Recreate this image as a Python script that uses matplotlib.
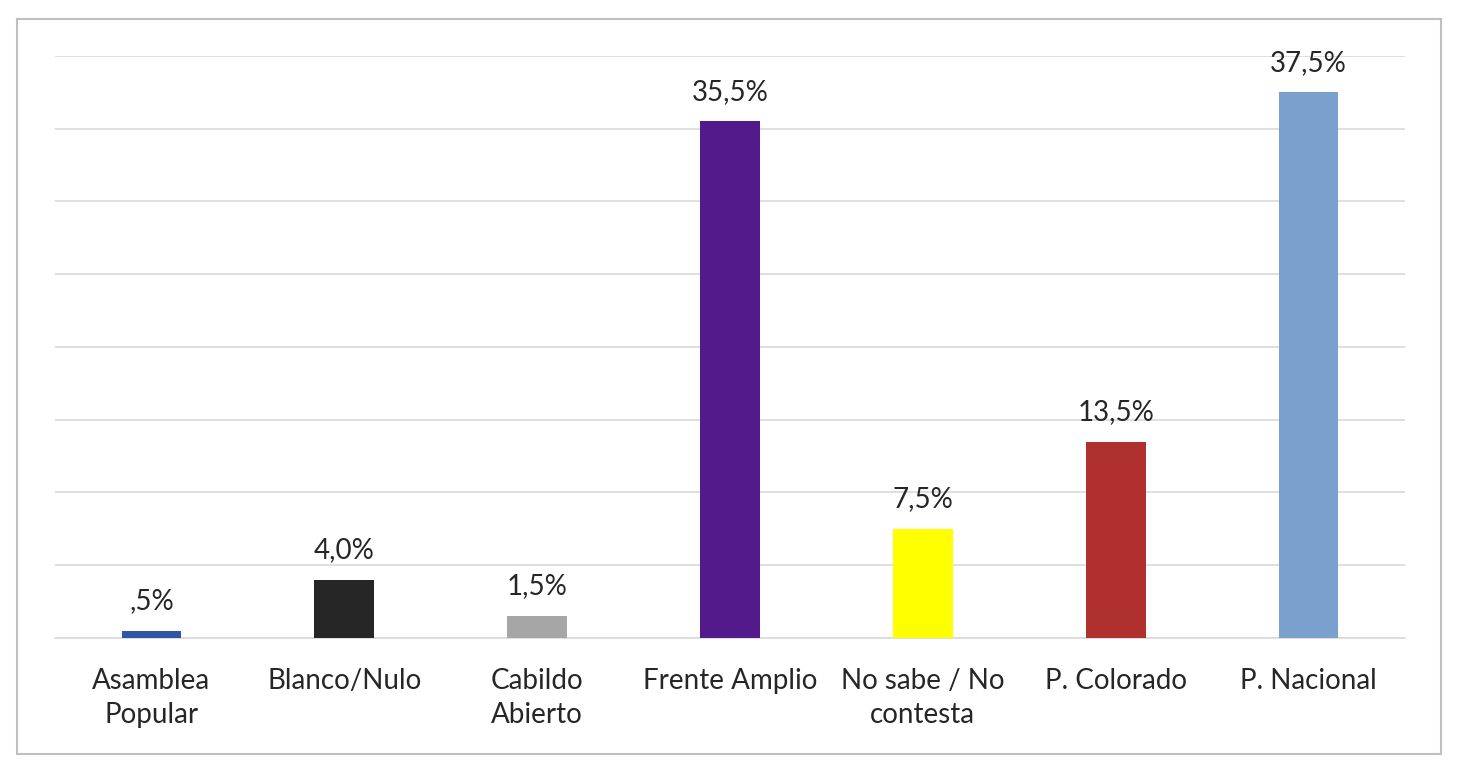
import matplotlib.pyplot as plt
from matplotlib.patches import Rectangle

plt.rcParams['font.family'] = ['Lato', 'DejaVu Sans']

categories = ["Asamblea\nPopular", "Blanco/Nulo", "Cabildo\nAbierto", "Frente Amplio",
              "No sabe / No\ncontesta", "P. Colorado", "P. Nacional"]
values = [0.5, 4.0, 1.5, 35.5, 7.5, 13.5, 37.5]
value_labels = [",5%", "4,0%", "1,5%", "35,5%", "7,5%", "13,5%", "37,5%"]
colors = ["#2F55A4", "#262626", "#A6A6A6", "#521A8A", "#FFFF00", "#B03030", "#7BA0CD"]

fig = plt.figure(figsize=(14.62, 7.72), dpi=100)
ax = fig.add_axes([0.0376, 0.1736, 0.9234, 0.7539])

# outer chart border
fig.patches.append(Rectangle((0.0116, 0.0233), 0.974, 0.952, transform=fig.transFigure,
                             fill=False, edgecolor="#BFBFBF", linewidth=1.5))

x = range(len(categories))
bars = ax.bar(x, values, width=0.31, color=colors, zorder=3)
for b, lab in zip(bars, value_labels):
    ax.annotate(lab, (b.get_x() + b.get_width() / 2, b.get_height()),
                xytext=(0, 12), textcoords="offset points",
                ha="center", va="bottom", fontsize=20, color="#262626")

ax.set_xlim(-0.5, len(categories) - 0.5)
ax.set_ylim(0, 40)
ax.set_yticks(range(0, 41, 5))
ax.yaxis.grid(True, color="#D9D9D9", linewidth=1.2, zorder=0)
ax.tick_params(axis="y", left=False, labelleft=False)
ax.tick_params(axis="x", bottom=False, pad=18)
ax.set_xticks(list(x))
ax.set_xticklabels(categories, fontsize=20, color="#262626", linespacing=1.4, va="top")
for s in ["top", "right", "left"]:
    ax.spines[s].set_visible(False)
ax.spines["bottom"].set_color("#D9D9D9")
ax.spines["bottom"].set_linewidth(1.2)

fig.savefig("out.png", dpi=100)
